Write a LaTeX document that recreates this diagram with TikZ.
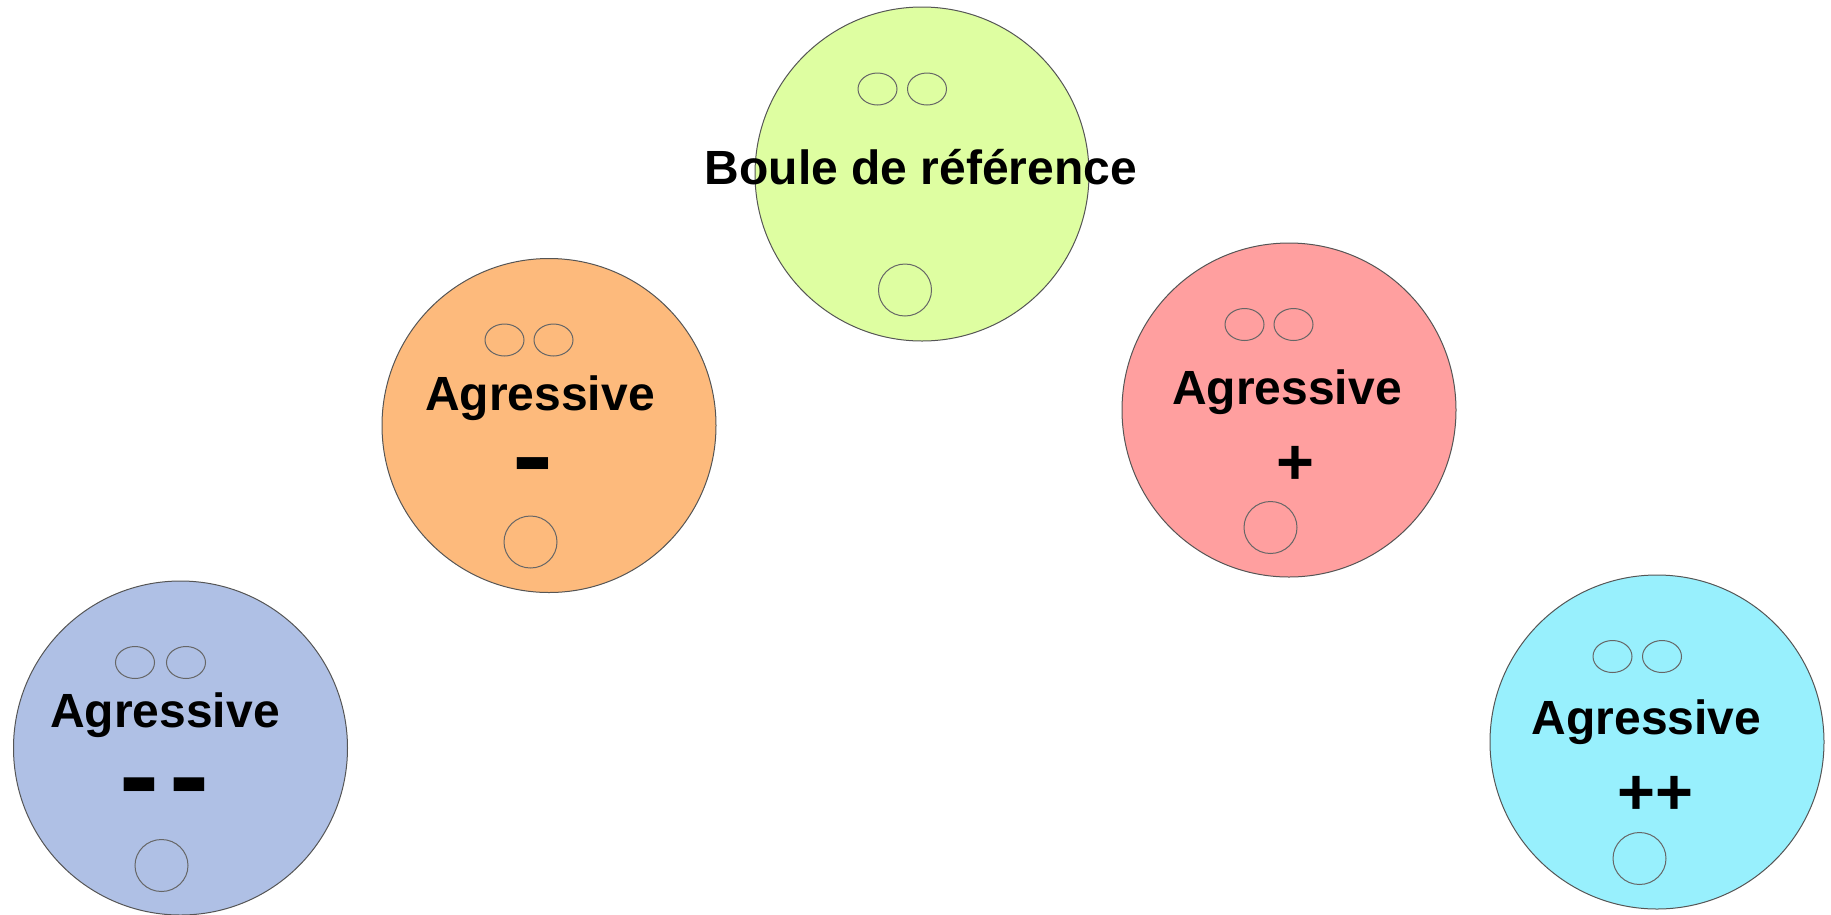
\documentclass[tikz,border=0pt]{standalone}
\usepackage{fontspec}
\setmainfont{Liberation Sans}
\usetikzlibrary{shapes.geometric}
\definecolor{cgreen}{HTML}{DEFEA1}
\definecolor{corange}{HTML}{FDBA7C}
\definecolor{cred}{HTML}{FF9F9F}
\definecolor{cblue}{HTML}{AFC0E5}
\definecolor{ccyan}{HTML}{98F0FD}
\definecolor{rim}{HTML}{555555}
\definecolor{feat}{HTML}{666666}
\tikzset{
  ball/.style={circle, draw=rim, line width=1pt, minimum size=334pt, inner sep=0pt},
  eye/.style={ellipse, draw=feat, line width=1pt, minimum width=39pt, minimum height=32pt, inner sep=0pt},
  mouth/.style={ellipse, draw=feat, line width=1pt, minimum width=53pt, minimum height=52pt, inner sep=0pt},
  lbl/.style={font=\bfseries\fontsize{48}{56}\selectfont, anchor=base, inner sep=0pt},
  minussign/.style={font=\bfseries\fontsize{50}{56}\selectfont, anchor=base, inner sep=0pt},
  plussign/.style={font=\bfseries\fontsize{65}{75}\selectfont, anchor=base, inner sep=0pt}
}
\begin{document}
\begin{tikzpicture}[x=1pt,y=-1pt]
\useasboundingbox (0,0) rectangle (1831,914);
% reference ball
\node[ball, fill=cgreen] (bref) at (922,174) {};
\node[eye] (brefel) at (877.5,89) {};
\node[eye] (brefer) at (927,89) {};
\node[mouth] (brefm) at (905,290) {};
\node[lbl] (breft) at (921,184) {Boule de référence};
% agressive -
\node[ball, fill=corange] (bm) at (549,425.5) {};
\node[eye] (bmel) at (504.5,340) {};
\node[eye] (bmer) at (553.5,340) {};
\node[mouth] (bmm) at (530.5,542) {};
\node[lbl] (bmt) at (540,410) {Agressive};
\node[minussign] (bms) at (533,489.5) {\scalebox{2.46}[2]{-}};
% agressive +
\node[ball, fill=cred] (bp) at (1289,410) {};
\node[eye] (bpel) at (1244.5,324.5) {};
\node[eye] (bper) at (1293.5,324.5) {};
\node[mouth] (bpm) at (1270.5,527.5) {};
\node[lbl] (bpt) at (1287,404) {Agressive};
\node[plussign] (bps) at (1295,484) {+};
% agressive - -
\node[ball, fill=cblue] (bmm2) at (180.5,748) {};
\node[eye] (bmmel) at (135,662.5) {};
\node[eye] (bmmer) at (186,662.5) {};
\node[mouth] (bmmm) at (161.5,865.5) {};
\node[lbl] (bmmt) at (165,727) {Agressive};
\node[minussign] (bmms) at (164.5,814.5) {\scalebox{2.4}[2.3]{-\kern4pt-}};
% agressive ++
\node[ball, fill=ccyan] (bpp) at (1657,742) {};
\node[eye] (bppel) at (1612.5,656.5) {};
\node[eye] (bpper) at (1662,656.5) {};
\node[mouth] (bppm) at (1639.5,858.5) {};
\node[lbl] (bppt) at (1646.5,734) {Agressive};
\node[plussign] (bpps) at (1655,814) {++};
\end{tikzpicture}
\end{document}
